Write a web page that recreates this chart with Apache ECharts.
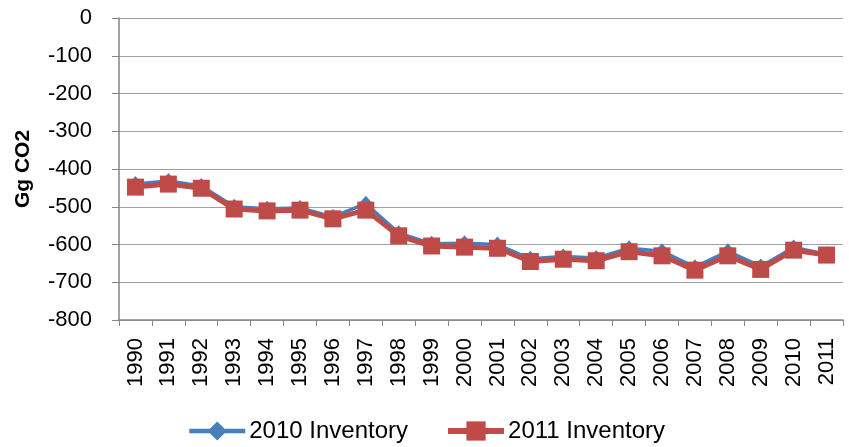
<!DOCTYPE html>
<html><head><meta charset="utf-8">
<script src="https://cdn.jsdelivr.net/npm/echarts@6/dist/echarts.min.js"></script>
<style>html,body{margin:0;padding:0;background:#fff}#c{width:849px;height:447px}</style>
</head><body><div id="c"></div>
<script>
var years = ['1990','1991','1992','1993','1994','1995','1996','1997','1998','1999','2000','2001','2002','2003','2004','2005','2006','2007','2008','2009','2010','2011'];
var inv2010 = [-440,-432,-445,-500,-505,-503,-527,-492,-570,-598,-597,-600,-638,-632,-636,-610,-618,-660,-618,-658,-608,-626];
var inv2011 = [-448,-440,-451,-506,-511,-509,-532,-509,-577,-604,-607,-610,-645,-639,-643,-619,-630,-668,-630,-666,-615,-628];
var yTicks = {min:-800, max:0, interval:100};

var chart = echarts.init(document.getElementById('c'));
var font = 'Liberation Sans';
chart.setOption({
  animation:false,
  grid:{left:119, right:6, top:18, bottom:127, containLabel:false},
  legend:{
    top:419, left:187, itemWidth:56, itemHeight:24, itemGap:37, padding:0,
    textStyle:{fontFamily:font, fontSize:24, color:'#000', padding:[0,0,0,-1]},
    data:[
      {name:'2010 Inventory', lineStyle:{width:4.5}},
      {name:'2011 Inventory', lineStyle:{width:6}}
    ]
  },
  xAxis:{
    type:'category', data:years, boundaryGap:true,
    axisLine:{onZero:false, lineStyle:{color:'#868686', width:1.5}},
    axisTick:{show:true, length:6, lineStyle:{color:'#868686'}},
    axisLabel:{rotate:90, interval:0, margin:18, fontFamily:font, fontSize:22, color:'#000'},
    splitLine:{show:false}
  },
  yAxis:{
    type:'value', min:yTicks.min, max:yTicks.max, interval:yTicks.interval,
    name:'Gg CO2', nameLocation:'middle', nameRotate:90, nameGap:85,
    nameTextStyle:{fontFamily:font, fontSize:21, fontWeight:'bold', color:'#000'},
    axisLine:{show:true, lineStyle:{color:'#868686', width:1.5}},
    axisTick:{show:true, inside:false, length:7, lineStyle:{color:'#868686'}},
    axisLabel:{margin:27, fontFamily:font, fontSize:22, color:'#000'},
    splitLine:{show:true, lineStyle:{color:'#a0a0a0', width:1.2}}
  },
  series:[
    {name:'2010 Inventory', type:'line', data:inv2010, symbol:'diamond', symbolSize:[14,16],
     lineStyle:{color:'#4a7ebb', width:3.5}, itemStyle:{color:'#4a7ebb'}},
    {name:'2011 Inventory', type:'line', data:inv2011, symbol:'rect', symbolSize:17,
     lineStyle:{color:'#be4b48', width:5}, itemStyle:{color:'#be4b48'}}
  ]
});
</script></body></html>
